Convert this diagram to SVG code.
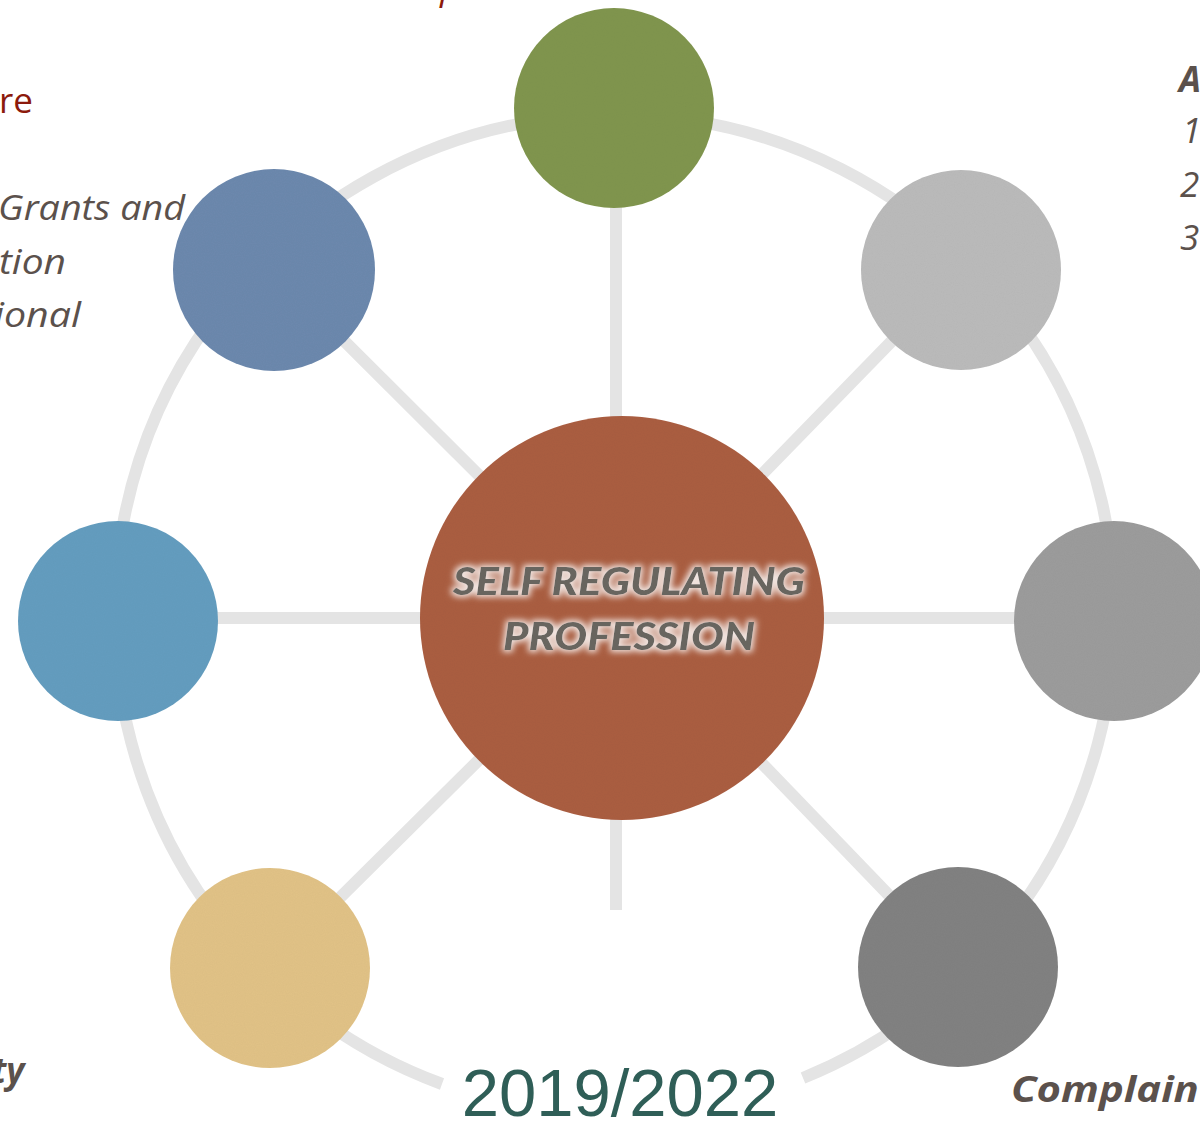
<svg xmlns="http://www.w3.org/2000/svg" width="1200" height="1123" viewBox="0 0 1200 1123">
  <style>
    .conn { stroke: #e4e4e4; stroke-width: 12; fill: none; }
    .lbl { font-family: "Open Sans", Lato, "Liberation Sans", sans-serif; font-style: italic; fill: #5b514c; font-size: 35px; }
    .bold { font-weight: 700; }
    .red { fill: #8c1a0c; font-style: normal; }
    .ctr { font-family: Lato, "Open Sans", "Liberation Sans", sans-serif; font-style: italic; font-weight: 900; fill: #68655f; font-size: 37px; text-anchor: middle; }
    .year { font-family: "Liberation Sans", Arial, sans-serif; fill: #2f5e57; font-size: 67px; text-anchor: middle; }
  </style>
  <defs>
    <filter id="tex" x="0" y="0" width="1" height="1">
      <feTurbulence type="fractalNoise" baseFrequency="0.9" numOctaves="2" seed="3" result="n"/>
      <feColorMatrix in="n" type="matrix" values="0 0 0 0 0  0 0 0 0 0  0 0 0 0 0  0 0 0 0.06 0" result="dark"/>
      <feComposite in="dark" in2="SourceAlpha" operator="in" result="d2"/>
      <feMerge><feMergeNode in="SourceGraphic"/><feMergeNode in="d2"/></feMerge>
    </filter>
    <filter id="glow" x="-10%" y="-30%" width="120%" height="160%">
      <feMorphology in="SourceAlpha" operator="dilate" radius="2" result="d"/>
      <feGaussianBlur in="d" stdDeviation="3" result="b"/>
      <feFlood flood-color="#ffffff" flood-opacity="0.85"/>
      <feComposite in2="b" operator="in" result="g"/>
      <feMerge><feMergeNode in="g"/><feMergeNode in="SourceGraphic"/></feMerge>
    </filter>
  </defs>

  <g id="connectors">
    <path class="conn" d="M 803 1078 A 500 500 0 1 0 442 1084"/>
    <line class="conn" x1="616" y1="618" x2="616" y2="150"/>
    <line class="conn" x1="616" y1="618" x2="616" y2="910"/>
    <line class="conn" x1="616" y1="618" x2="150" y2="618"/>
    <line class="conn" x1="616" y1="618" x2="1080" y2="618"/>
    <line class="conn" x1="622" y1="618" x2="273" y2="270"/>
    <line class="conn" x1="622" y1="618" x2="961" y2="270"/>
    <line class="conn" x1="622" y1="618" x2="269" y2="968"/>
    <line class="conn" x1="622" y1="618" x2="958" y2="967"/>
  </g>

  <g id="node-top"><circle cx="614" cy="108" r="100" fill="#81964f" filter="url(#tex)"/></g>
  <g id="node-top-left"><circle cx="274" cy="270" r="101" fill="#6d89ae" filter="url(#tex)"/></g>
  <g id="node-top-right"><circle cx="961" cy="270" r="100" fill="#bbbbbb" filter="url(#tex)"/></g>
  <g id="node-left"><circle cx="118" cy="621" r="100" fill="#659ec0" filter="url(#tex)"/></g>
  <g id="node-right"><circle cx="1114" cy="621" r="100" fill="#9c9c9c" filter="url(#tex)"/></g>
  <g id="node-bottom-left"><circle cx="270" cy="968" r="100" fill="#e2c387" filter="url(#tex)"/></g>
  <g id="node-bottom-right"><circle cx="958" cy="967" r="100" fill="#828282" filter="url(#tex)"/></g>

  <g id="node-center">
    <circle cx="622" cy="618" r="202" fill="#ab5e43" filter="url(#tex)"/>
    <g filter="url(#glow)">
      <text class="ctr" x="629" y="595" textLength="352" lengthAdjust="spacingAndGlyphs">SELF REGULATING</text>
      <text class="ctr" x="629" y="650" textLength="252" lengthAdjust="spacingAndGlyphs">PROFESSION</text>
    </g>
  </g>

  <g id="labels">
    <text class="lbl red" x="440" y="0" style="font-style:italic">p</text>
    <text class="lbl red" x="-1" y="113" font-size="34">re</text>
    <text class="lbl" x="-2" y="220" textLength="187" lengthAdjust="spacingAndGlyphs">Grants and</text>
    <text class="lbl" x="-1" y="274" textLength="67" lengthAdjust="spacingAndGlyphs">tion</text>
    <text class="lbl" x="-6" y="327" textLength="87" lengthAdjust="spacingAndGlyphs">ional</text>
    <text class="lbl bold" x="1179" y="92">A</text>
    <text class="lbl" x="1182" y="143">1</text>
    <text class="lbl" x="1180" y="197">2</text>
    <text class="lbl" x="1180" y="250">3</text>
    <text class="lbl bold" x="-8" y="1083">ty</text>
    <text class="lbl bold" x="1011" y="1102" textLength="205" lengthAdjust="spacingAndGlyphs">Complaint</text>
  </g>

  <g id="year"><text class="year" x="620" y="1116">2019/2022</text></g>
</svg>
